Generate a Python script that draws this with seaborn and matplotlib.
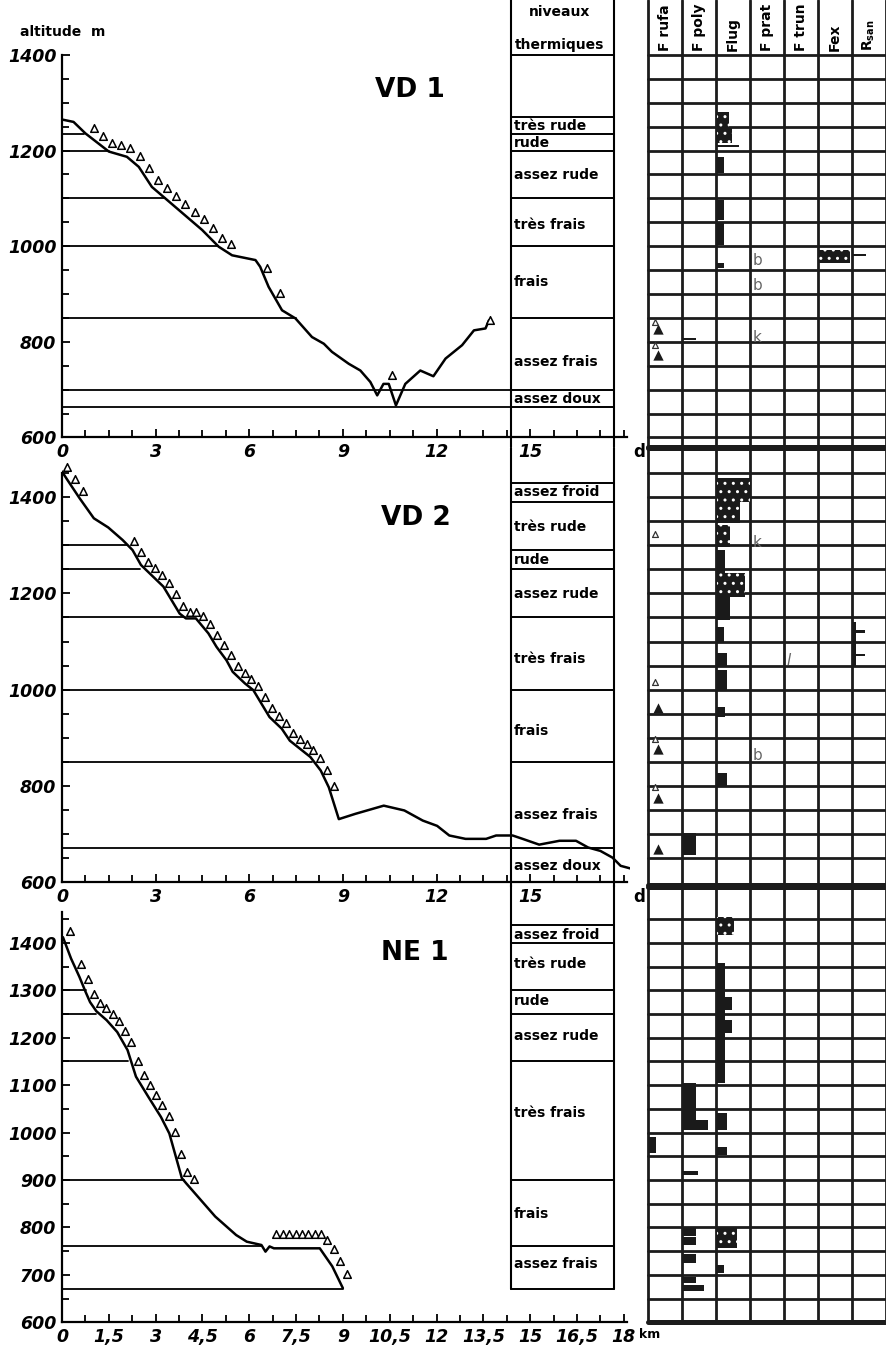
import numpy as np
import matplotlib
matplotlib.use("Agg")
import matplotlib.pyplot as plt
import seaborn as sns

# ---------------------------------------------------------------- data
species = ["F rufa", "F poly", "Flug", "F prat", "F trun", "Fex", r"R$_{\mathbf{san}}$"]

# --- VD 1 profile
vd1_km = [0, 0.37, 0.75, 1.5, 2.08, 2.46, 2.88, 3.31, 4.49, 5.02, 5.45, 6.2, 6.35, 6.62,
          7.05, 7.48, 8.01, 8.39, 8.65, 9.19, 9.56, 9.88, 10.1, 10.3, 10.47, 10.7, 11.0,
          11.48, 11.9, 12.29, 12.82, 13.2, 13.57, 13.68]
vd1_alt = [1265, 1260, 1236, 1198, 1187, 1166, 1124, 1100, 1034, 999, 981, 971, 957, 915,
           866, 849, 810, 796, 779, 754, 740, 716, 688, 712, 712, 667, 712,
           740, 728, 765, 793, 824, 828, 845]
vd1_lvl_alt = [1235, 1200, 1100, 1000, 850, 700, 663]
vd1_lvl_end = [0.72, 1.5, 3.3, 5.0, 7.5, 14.4, 14.4]
vd1_forest_from = [0.9, 6.45, 10.45, 13.6]
vd1_forest_to = [5.3, 6.85, 10.45, 13.6]
vd1_forest_lift = [18, 14, 18, 14]
vd1_zone_bounds = [1400, 1270, 1235, 1200, 1100, 1000, 850, 700, 663]
vd1_zone_names = ["très rude", "rude", "assez rude", "très frais", "frais", "assez frais", "assez doux"]
vd1_zone_label_alt = [1251, 1216, 1149, 1044, 925, 757, 680]
vd1_bar_sp = [2, 2, 2, 2, 2, 2, 2, 5, 6, 1]
vd1_bar_lo = [1247, 1216, 1207, 1153, 1054, 1002, 954, 964, 980, 803]
vd1_bar_hi = [1281, 1247, 1211, 1186, 1096, 1048, 964, 992, 983, 809]
vd1_bar_w = [0.36, 0.45, 0.67, 0.2, 0.2, 0.2, 0.2, 0.95, 0.4, 0.4]
vd1_bar_dot = [1, 1, 0, 0, 0, 0, 0, 1, 0, 0]
vd1_tri_alt = [818, 765]
vd1_otri_alt = [836, 788]
vd1_let_sp = [3, 3, 3]
vd1_let_alt = [971, 918, 810]
vd1_let_txt = ["b", "b", "k"]

# --- VD 2 profile
vd2_km = [0, 0.17, 0.56, 1.02, 1.48, 1.94, 2.26, 2.53, 3.25, 3.77, 3.97, 4.29, 4.69, 4.95,
          5.27, 5.47, 5.86, 6.13, 6.39, 6.65, 7.04, 7.3, 7.96, 8.29, 8.55, 8.87, 9.4,
          10.31, 10.97, 11.56, 12.02, 12.41, 12.93, 13.59, 13.91, 14.44, 14.76, 15.29,
          15.94, 16.47, 16.86, 17.25, 17.64, 17.9, 18.3]
vd2_alt = [1453, 1436, 1398, 1356, 1337, 1311, 1290, 1259, 1214, 1158, 1148, 1148, 1117, 1089,
           1061, 1037, 1013, 999, 971, 943, 919, 894, 860, 832, 797, 731, 742,
           759, 749, 728, 717, 697, 690, 690, 697, 697, 690, 678,
           686, 686, 672, 665, 651, 634, 627]
vd2_lvl_alt = [1300, 1250, 1150, 1000, 850, 670]
vd2_lvl_end = [2.07, 2.5, 3.95, 6.08, 8.0, 14.4]
vd2_forest_from = [0.05, 2.2]
vd2_forest_to = [0.55, 8.6]
vd2_forest_lift = [14, 14]
vd2_zone_bounds = [1430, 1390, 1290, 1250, 1150, 1000, 850, 670]
vd2_zone_names = ["assez froid", "très rude", "rude", "assez rude", "très frais", "frais",
                  "assez frais", "assez doux"]
vd2_zone_label_alt = [1411, 1338, 1269, 1199, 1064, 914, 739, 633]
vd2_bar_sp = [2, 2, 2, 2, 2, 2, 2, 2, 2, 2, 2, 1, 6, 6, 6]
vd2_bar_lo = [1390, 1346, 1296, 1242, 1192, 1145, 1097, 1047, 999, 943, 797, 656, 1047, 1118, 1070]
vd2_bar_hi = [1440, 1390, 1342, 1290, 1242, 1192, 1130, 1076, 1041, 964, 827, 702, 1140, 1123, 1075]
vd2_bar_w = [1.0, 0.7, 0.4, 0.25, 0.85, 0.4, 0.2, 0.3, 0.3, 0.25, 0.3, 0.4, 0.08, 0.35, 0.35]
vd2_bar_dot = [1, 1, 1, 0, 1, 0, 0, 0, 0, 0, 0, 0, 0, 0, 0]
vd2_tri_alt = [953, 868, 766, 660]
vd2_otri_alt = [1317, 1010, 891, 791]
vd2_let_sp = [3, 3, 4]
vd2_let_alt = [1305, 864, 1061]
vd2_let_txt = ["k", "b", "l"]

# --- NE 1 profile
ne1_km = [0.03, 0.29, 0.56, 0.76, 0.9, 1.1, 1.43, 1.77, 2.1, 2.37, 2.77, 3.17, 3.44, 3.84,
          3.98, 4.91, 5.58, 5.92, 6.39, 6.52, 6.65, 6.79, 8.26, 8.66, 9.0]
ne1_alt = [1412, 1367, 1328, 1296, 1275, 1256, 1237, 1212, 1174, 1118, 1075, 1033, 998, 904,
           893, 823, 784, 770, 763, 749, 760, 756, 756, 718, 672]
ne1_lvl_alt = [1300, 1250, 1150, 900, 760, 670]
ne1_lvl_end = [0.76, 1.1, 2.1, 3.9, 6.4, 9.0]
ne1_forest_from = [0.13, 0.5, 6.75]
ne1_forest_to = [0.13, 4.1, 9.0]
ne1_forest_lift = [30, 18, 30]
ne1_zone_bounds = [1437, 1400, 1300, 1250, 1150, 900, 760, 670]
ne1_zone_names = ["assez froid", "très rude", "rude", "assez rude", "très frais", "frais",
                  "assez frais"]
ne1_zone_label_alt = [1416, 1355, 1277, 1203, 1041, 828, 722]
ne1_bar_sp = [2, 2, 2, 2, 2, 2, 2, 2, 1, 1, 1, 1, 1, 1, 1, 1, 0]
ne1_bar_lo = [1416, 1104, 1258, 1210, 1005, 952, 756, 703, 1005, 1005, 910, 783, 762, 724, 682, 665, 957]
ne1_bar_hi = [1454, 1357, 1286, 1237, 1041, 969, 798, 720, 1104, 1026, 920, 798, 779, 745, 695, 678, 990]
ne1_bar_w = [0.5, 0.25, 0.45, 0.45, 0.3, 0.3, 0.6, 0.2, 0.4, 0.77, 0.45, 0.4, 0.4, 0.4, 0.4, 0.65, 0.2]
ne1_bar_dot = [1, 0, 0, 0, 0, 0, 1, 0, 0, 0, 0, 0, 0, 0, 0, 0, 0]
ne1_tri_alt = []
ne1_otri_alt = []
ne1_let_sp = []
ne1_let_alt = []
ne1_let_txt = []

xlabels_std = ["0", "3", "6", "9", "12", "15"]
xlabels_ne = ["0", "1,5", "3", "4,5", "6", "7,5", "9", "10,5", "12", "13,5", "15", "16,5", "18"]

# ---------------------------------------------------------------- style
sns.set_style("white")
plt.rcParams['font.family'] = ['DejaVu Sans']
for k in ["text.color", "axes.labelcolor", "xtick.color", "ytick.color", "axes.edgecolor"]:
    plt.rcParams[k] = "black"
W, H = 886, 1346
fig = plt.figure(figsize=(W / 100, H / 100), dpi=100)
fig.patch.set_facecolor("white")

COL_L, COL_R = 14.4, 17.7     # niveaux column (km units)


def px_axes(x0, y0, x1, y1):
    ax = fig.add_axes([x0 / W, 1 - y1 / H, (x1 - x0) / W, (y1 - y0) / H])
    ax.set_facecolor("none")
    return ax


def tree_positions(km, alt, f_from, f_to, lift, step):
    xs, ls = [], []
    for a, b, l in zip(f_from, f_to, lift):
        n = max(1, int(round((b - a) / step)) + 1)
        pts = np.linspace(a, b, n)
        xs.extend(pts)
        ls.extend([l] * n)
    xs = np.array(xs)
    ys = np.interp(xs, km, alt) + np.array(ls)
    return xs + 0.12, ys


panels = [
    dict(km=vd1_km, alt=vd1_alt, lvl=vd1_lvl_alt, lend=vd1_lvl_end, ff=vd1_forest_from,
         ft=vd1_forest_to, fl=vd1_forest_lift, step=0.3, zb=vd1_zone_bounds, zn=vd1_zone_names,
         zl=vd1_zone_label_alt,
         y0=0, y1=447, ylim=(580, 1515), spine_top=1400, yt=np.arange(600, 1401, 200),
         col=(580, 1515), title="VD 1", tpos=(11.15, 1327), xl=xlabels_std, xt=np.arange(0, 16, 3),
         end="d", endx=18.3, endfs=12, grid=(580, 1515), rows=np.arange(600, 1401, 50), thick=[580],
         bs=vd1_bar_sp, blo=vd1_bar_lo, bhi=vd1_bar_hi, bw=vd1_bar_w, bd=vd1_bar_dot,
         tri=vd1_tri_alt, otri=vd1_otri_alt, ls=vd1_let_sp, la=vd1_let_alt, lt=vd1_let_txt),
    dict(km=vd2_km, alt=vd2_alt, lvl=vd2_lvl_alt, lend=vd2_lvl_end, ff=vd2_forest_from,
         ft=vd2_forest_to, fl=vd2_forest_lift, step=0.22, zb=vd2_zone_bounds, zn=vd2_zone_names,
         zl=vd2_zone_label_alt,
         y0=448, y1=887, ylim=(590, 1502), spine_top=1450, yt=np.arange(600, 1401, 200),
         col=(590, 1502), title="VD 2", tpos=(11.35, 1356), xl=xlabels_std, xt=np.arange(0, 16, 3),
         end="d", endx=18.3, endfs=12, grid=(590, 1502), rows=np.arange(650, 1451, 50), thick=[590, 1502],
         bs=vd2_bar_sp, blo=vd2_bar_lo, bhi=vd2_bar_hi, bw=vd2_bar_w, bd=vd2_bar_dot,
         tri=vd2_tri_alt, otri=vd2_otri_alt, ls=vd2_let_sp, la=vd2_let_alt, lt=vd2_let_txt),
    dict(km=ne1_km, alt=ne1_alt, lvl=ne1_lvl_alt, lend=ne1_lvl_end, ff=ne1_forest_from,
         ft=ne1_forest_to, fl=ne1_forest_lift, step=0.2, zb=ne1_zone_bounds, zn=ne1_zone_names,
         zl=ne1_zone_label_alt,
         y0=885, y1=1328, ylim=(588, 1522), spine_top=1465, yt=np.arange(600, 1401, 100),
         col=(670, 1522), title="NE 1", tpos=(11.3, 1379), xl=xlabels_ne, xt=np.arange(0, 18.1, 1.5),
         end="km", endx=18.5, endfs=9, grid=(600, 1522), rows=np.arange(600, 1451, 50), thick=[600, 1522],
         bs=ne1_bar_sp, blo=ne1_bar_lo, bhi=ne1_bar_hi, bw=ne1_bar_w, bd=ne1_bar_dot,
         tri=ne1_tri_alt, otri=ne1_otri_alt, ls=ne1_let_sp, la=ne1_let_alt, lt=ne1_let_txt),
]

tick_font = dict(fontsize=12.5, fontweight="bold", fontstyle="italic", color="black")

for i, p in enumerate(panels):
    # ------------------------------------------------ profile axes
    ax = px_axes(62, p["y0"], 630, p["y1"])
    ax.set_xlim(0, 18.2)
    ax.set_ylim(*p["ylim"])
    for s in ["top", "right"]:
        ax.spines[s].set_visible(False)
    ax.spines["left"].set_bounds(600, p["spine_top"])
    ax.spines["bottom"].set_position(("data", 600))
    ax.spines["bottom"].set_bounds(0, 18.1)
    for s in ["left", "bottom"]:
        ax.spines[s].set_linewidth(1.6)
        ax.spines[s].set_color("black")

    ax.set_yticks(p["yt"])
    ax.set_yticklabels([str(v) for v in p["yt"]], **tick_font)
    ax.set_yticks(np.arange(600, p["spine_top"] + 1, 50), minor=True)
    ax.set_xticks(p["xt"])
    ax.set_xticklabels(p["xl"], **tick_font)
    ax.set_xticks(np.arange(0, 18.1, 0.75), minor=True)
    ax.tick_params(which="both", direction="in", color="black", width=1.3, pad=4,
                   left=True, bottom=True)
    ax.tick_params(which="major", length=6)
    ax.tick_params(which="minor", length=5)
    ax.annotate(p["end"], xy=(p["endx"], 600), xytext=(0, -4), textcoords="offset points",
                ha="left", va="top", fontsize=p["endfs"], fontweight="bold",
                annotation_clip=False)

    # thermal level lines
    for a, e in zip(p["lvl"], p["lend"]):
        ax.plot([0, e], [a, a], color="black", lw=1.3, zorder=2)

    # profile
    sns.lineplot(x=p["km"], y=p["alt"], ax=ax, color="black", lw=1.8, sort=False,
                 estimator=None, zorder=3)

    # forest symbols
    tx, ty = tree_positions(p["km"], p["alt"], p["ff"], p["ft"], p["fl"], p["step"])
    sns.scatterplot(x=tx, y=ty, ax=ax, marker="^", s=30, facecolor="white",
                    edgecolor="black", linewidth=1.1, zorder=4)

    # niveaux thermiques column
    cb, ct = p["col"]
    ax.plot([COL_L, COL_L], [cb, ct], color="black", lw=1.5, clip_on=False, zorder=2)
    ax.plot([COL_R, COL_R], [cb, ct], color="black", lw=1.5, clip_on=False, zorder=2)
    for b in p["zb"]:
        ax.plot([COL_L, COL_R], [b, b], color="black", lw=1.4, clip_on=False, zorder=2)
    for name, la in zip(p["zn"], p["zl"]):
        ax.text(COL_L + 0.08, la, name, ha="left", va="center", fontsize=10,
                fontweight="bold", zorder=5)
    if i == 0:
        ax.text(15.95, 1490, "niveaux", ha="center", va="center", fontsize=10, fontweight="bold")
        ax.text(15.95, 1421, "thermiques", ha="center", va="center", fontsize=10, fontweight="bold")

    ax.text(p["tpos"][0], p["tpos"][1], p["title"], ha="center", va="center",
            fontsize=19, fontweight="bold")

    # ------------------------------------------------ species grid axes
    gx = px_axes(648, p["y0"], 886, p["y1"])
    gx.set_xlim(0, 7)
    gx.set_ylim(*p["ylim"])
    gx.axis("off")
    g0, g1 = p["grid"]
    for c in range(8):
        gx.plot([c, c], [g0, g1], color="#1c1c1c", lw=2.0, clip_on=False)
    for r in p["rows"]:
        gx.plot([0, 7], [r, r], color="#1c1c1c", lw=2.0, clip_on=False)
    for t in p["thick"]:
        gx.plot([0, 7], [t, t], color="#1c1c1c", lw=3.6, clip_on=False)

    # presence marks
    for sp, lo, hi, w, d in zip(p["bs"], p["blo"], p["bhi"], p["bw"], p["bd"]):
        gx.bar(sp + 0.04, hi - lo, bottom=lo, width=w * 0.95, align="edge",
               color="#1a1a1a", linewidth=0, zorder=3)
        if d:
            gx.bar(sp + 0.04, hi - lo, bottom=lo, width=w * 0.95, align="edge",
                   facecolor="none", edgecolor="white", hatch="..", linewidth=0, zorder=4)
    if len(p["tri"]):
        sns.scatterplot(x=np.full(len(p["tri"]), 0.3), y=np.array(p["tri"]) + 8, ax=gx,
                        marker="^", s=55, color="#1a1a1a", linewidth=0, zorder=4)
    if len(p["otri"]):
        sns.scatterplot(x=np.full(len(p["otri"]), 0.2), y=np.array(p["otri"]) + 6, ax=gx,
                        marker="^", s=18, facecolor="white", edgecolor="#333333",
                        linewidth=0.9, zorder=4)
    for sp, la, tx_ in zip(p["ls"], p["la"], p["lt"]):
        gx.text(sp + 0.08, la, tx_, ha="left", va="center", fontsize=11,
                color="#666666", fontstyle="italic" if tx_ == "l" else "normal", zorder=5)

    if i == 0:
        for c, name in enumerate(species):
            gx.text(c + 0.5, 1408, name, rotation=90, ha="center", va="bottom",
                    fontsize=10, fontweight="bold")

fig.text(20 / W, 1 - 32 / H, "altitude  m", ha="left", va="center", fontsize=10,
         fontweight="bold")

fig.savefig("out.png", dpi=100, facecolor="white")
